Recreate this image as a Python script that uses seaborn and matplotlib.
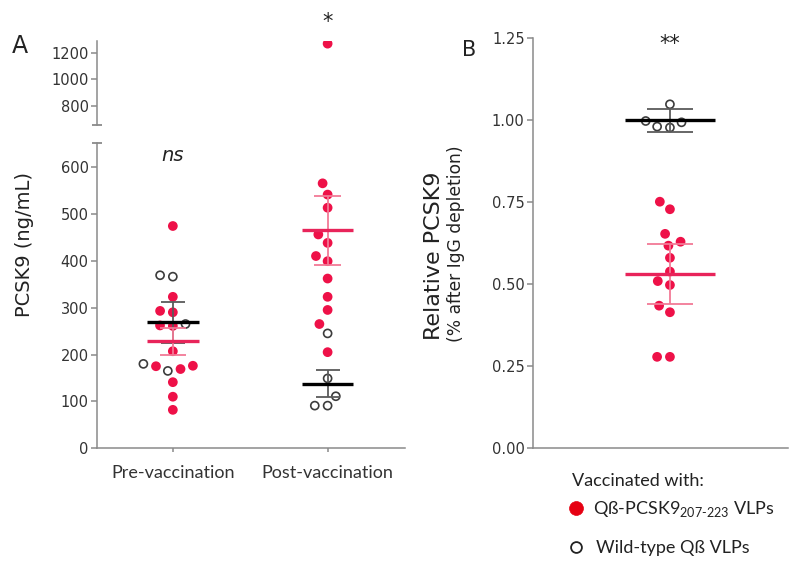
import numpy as np
import pandas as pd
import matplotlib
matplotlib.use("Agg")
import matplotlib.pyplot as plt
from matplotlib.lines import Line2D
from matplotlib.colors import to_rgba
from matplotlib.collections import PathCollection
from matplotlib.transforms import blended_transform_factory
import seaborn as sns

# ---------------- data ----------------
timepoints = ["Pre-vaccination", "Post-vaccination"]
groups = ["Qß-PCSK9 VLPs", "Wild-type Qß VLPs"]

pre_pcsk9_vlp = [474, 323, 293, 290, 262, 261, 207, 176, 175, 169, 141, 110, 82]
pre_wt_vlp = [369, 366, 265, 180, 165]
post_pcsk9_vlp = [1270, 565, 541, 513, 456, 438, 410, 399, 362, 323, 295, 265, 205]
post_wt_vlp = [245, 149, 111, 91, 91]

rel_pcsk9_vlp = [0.750, 0.727, 0.652, 0.628, 0.616, 0.579, 0.537, 0.508,
                 0.496, 0.433, 0.413, 0.277, 0.277]
rel_wt_vlp = [1.047, 0.996, 0.992, 0.979, 0.976]

yticks_low = [0, 100, 200, 300, 400, 500, 600]
yticks_high = [800, 1000, 1200]
yticks_rel = [0.00, 0.25, 0.50, 0.75, 1.00, 1.25]
t95 = {4: 2.776, 12: 2.179}   # two-sided t critical values for 95% CI

legend_title = "Vaccinated with:"
legend_labels = ["Qß-PCSK9$_{\\mathregular{207\u2010223}}$ VLPs", "Wild-type Qß VLPs"]

# ---------------- tables ----------------
dfA = pd.DataFrame({
    "time": [timepoints[0]] * (len(pre_pcsk9_vlp) + len(pre_wt_vlp))
            + [timepoints[1]] * (len(post_pcsk9_vlp) + len(post_wt_vlp)),
    "group": [groups[0]] * len(pre_pcsk9_vlp) + [groups[1]] * len(pre_wt_vlp)
             + [groups[0]] * len(post_pcsk9_vlp) + [groups[1]] * len(post_wt_vlp),
    "value": pre_pcsk9_vlp + pre_wt_vlp + post_pcsk9_vlp + post_wt_vlp,
})
dfB = pd.DataFrame({
    "group": [groups[0]] * len(rel_pcsk9_vlp) + [groups[1]] * len(rel_wt_vlp),
    "value": rel_pcsk9_vlp + rel_wt_vlp,
})

# ---------------- style ----------------
RED = "#EE1148"
RED_MEAN = "#E8245A"
RED_ERR = "#F27A96"
WT_EDGE = "#3c3c3c"
AX_GRAY = "#8a8a8a"
TXT = "#222222"
SANS2 = ["Lato", "DejaVu Sans"]
LAYOUT_SIZE = 7.6   # collision size used for the swarm layout (Prism-like spacing)
DOT_SIZE = 5.8      # drawn marker size

sns.set_style("ticks")
plt.rcParams["font.family"] = ["DejaVu Sans"]

W, H = 800, 566
fig = plt.figure(figsize=(W / 100, H / 100), dpi=100)

def fx(px):
    return px / W

def fy(py):
    return 1 - py / H

axA = fig.add_axes([fx(97), fy(448.3), fx(405 - 97), (448.3 - 143) / H])
axT = fig.add_axes([fx(97), fy(125), fx(405 - 97), (125 - 41) / H])
axB = fig.add_axes([fx(533), fy(447.7), fx(788 - 533), (447.7 - 37.7) / H])

palette = {groups[0]: RED, groups[1]: "white"}


def swarm(ax, data, **kw):
    sns.swarmplot(data=data, y="value", hue="group", hue_order=groups,
                  palette=palette, size=LAYOUT_SIZE, linewidth=1.2, legend=False,
                  ax=ax, zorder=3, **kw)
    for coll in ax.collections:
        fc = np.array(coll.get_facecolors())
        ec = fc.copy()
        white = fc[:, :3].min(axis=1) > 0.95
        ec[white] = to_rgba(WT_EDGE)
        coll.set_edgecolors(ec)


swarm(axA, dfA, x="time", order=timepoints)
swarm(axT, dfA, x="time", order=timepoints)
swarm(axB, dfB)

# ---------------- means and error bars ----------------
def summary(ax, xpos, vals, kind, mean_col, err_col, mean_half, cap_half, mean_lw):
    v = np.asarray(vals, dtype=float)
    m = v.mean()
    sem = v.std(ddof=1) / np.sqrt(len(v))
    e = sem if kind == "sem" else sem * t95[len(v) - 1]
    ax.vlines(xpos, m - e, m + e, color=err_col, lw=1.3, zorder=4)
    ax.hlines([m - e, m + e], xpos - cap_half, xpos + cap_half, color=err_col, lw=1.3, zorder=4)
    ax.hlines(m, xpos - mean_half, xpos + mean_half, color=mean_col, lw=mean_lw, zorder=5)


for i, t in enumerate(timepoints):
    sub = dfA[dfA["time"] == t]
    summary(axA, i, sub[sub["group"] == groups[1]]["value"], "sem",
            "black", "#5a5a5a", 0.166, 0.078, 2.4)
    summary(axA, i, sub[sub["group"] == groups[0]]["value"], "sem",
            RED_MEAN, RED_ERR, 0.166, 0.085, 2.4)

summary(axB, 0, rel_wt_vlp, "ci", "black", "#5a5a5a", 0.176, 0.09, 2.4)
summary(axB, 0, rel_pcsk9_vlp, "ci", RED_MEAN, RED_ERR, 0.176, 0.09, 2.4)

# ---------------- axes formatting ----------------
for ax in (axA, axT, axB):
    for s in ("top", "right"):
        ax.spines[s].set_visible(False)
    for s in ("left", "bottom"):
        ax.spines[s].set_color(AX_GRAY)
        ax.spines[s].set_linewidth(1.1)
    ax.tick_params(axis="both", colors=AX_GRAY, labelcolor="#333333",
                   width=1.1, length=4, labelsize=10.5, pad=2)
    ax.set_xlabel("")

axA.set_xlim(-0.49, 1.5)
axA.set_ylim(0, 651)
axA.set_yticks(yticks_low)
axA.set_xticks([0, 1])
axA.set_xticklabels(timepoints, family=SANS2, fontsize=13, color="#333333")
axA.tick_params(axis="x", length=3, pad=9)
axA.set_ylabel("PCSK9 (ng/mL)", fontsize=14, color=TXT)
axA.yaxis.set_label_coords(-0.205, 0.666)

axT.set_xlim(-0.49, 1.5)
axT.set_ylim(657, 1290)
axT.set_yticks(yticks_high)
axT.spines["bottom"].set_visible(False)
axT.set_xticks([])
axT.set_ylabel("")

# axis-break caps
axA.plot([0], [1], transform=axA.transAxes, marker="_", ms=7, mew=1.3,
         color=AX_GRAY, clip_on=False)
axT.plot([0], [0], transform=axT.transAxes, marker="_", ms=7, mew=1.3,
         color=AX_GRAY, clip_on=False)

axB.set_xlim(-0.537, 0.463)
axB.set_ylim(0, 1.25)
axB.set_yticks(yticks_rel)
axB.set_yticklabels([f"{v:.2f}" for v in yticks_rel])
axB.set_xticks([])
axB.set_ylabel("")

# ---------------- annotations ----------------
fig.text(fx(20), fy(46), "A", fontsize=17, ha="center", va="center", color=TXT)
fig.text(fx(469), fy(50), "B", fontsize=15, ha="center", va="center", color=TXT)

axA.text(0, 625, "ns", fontsize=14, style="italic", ha="center", va="center", color=TXT)
trT = blended_transform_factory(axT.transData, fig.transFigure)
axT.text(1, fy(22), "*", fontsize=15, ha="center", va="center", color=TXT, transform=trT)
axB.text(0, 1.232, "**", fontsize=15, ha="center", va="center", color=TXT)

fig.text(fx(434), fy(256), "Relative PCSK9", fontsize=16, rotation=90,
         ha="center", va="center", color=TXT)
fig.text(fx(456), fy(244), "(% after IgG depletion)", fontsize=12.3, rotation=90,
         ha="center", va="center", color=TXT)

# ---------------- legend (drawn in figure coordinates) ----------------
fig.text(fx(572), fy(486), legend_title, family=SANS2, fontsize=13,
         ha="left", va="baseline", color=TXT)
fig.add_artist(Line2D([fx(576)], [fy(508)], transform=fig.transFigure, ls="",
                      marker="o", ms=10, markerfacecolor="#E60012",
                      markeredgecolor="#E60012", mew=0.5))
fig.text(fx(593), fy(514), legend_labels[0], family=SANS2, fontsize=13,
         ha="left", va="baseline", color=TXT)
fig.add_artist(Line2D([fx(576)], [fy(547)], transform=fig.transFigure, ls="",
                      marker="o", ms=7.8, markerfacecolor="white",
                      markeredgecolor="#222222", mew=1.3))
fig.text(fx(596), fy(553), legend_labels[1], family=SANS2, fontsize=13,
         ha="left", va="baseline", color=TXT)

# ---------------- freeze swarm layout, then shrink dots to drawn size ----------------
fig.canvas.draw()
for ax in (axA, axT, axB):
    for coll in ax.collections:
        if isinstance(coll, PathCollection):
            if "draw" in coll.__dict__:
                del coll.__dict__["draw"]
            coll.set_sizes([DOT_SIZE ** 2])

fig.savefig("out.png", dpi=100)
